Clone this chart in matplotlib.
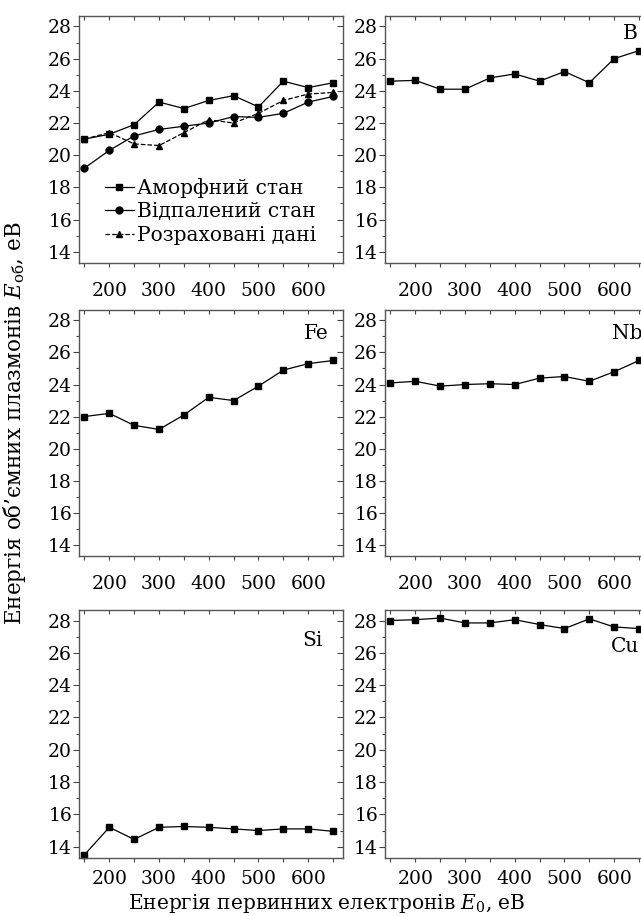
import numpy as np
import matplotlib
matplotlib.use('Agg')
import matplotlib.pyplot as plt

plt.rcParams['font.family'] = ['DejaVu Serif']
plt.rcParams['mathtext.fontset'] = 'dejavuserif'

# енергія первинних електронів, еВ
e0 = [150, 200, 250, 300, 350, 400, 450, 500, 550, 600, 650]

# Аморфний сплав: три криві
amorph = [21.0, 21.3, 21.9, 23.3, 22.9, 23.4, 23.7, 23.0, 24.6, 24.2, 24.5]
annealed = [19.2, 20.3, 21.2, 21.6, 21.8, 22.0, 22.4, 22.35, 22.6, 23.3, 23.65]
calc = [21.0, 21.4, 20.7, 20.6, 21.4, 22.2, 22.0, 22.6, 23.4, 23.8, 23.9]

# окремі елементи
el_B = [24.6, 24.65, 24.1, 24.1, 24.8, 25.05, 24.6, 25.2, 24.5, 26.0, 26.5]
el_Fe = [22.0, 22.2, 21.45, 21.2, 22.1, 23.2, 23.0, 23.9, 24.9, 25.3, 25.5]
el_Nb = [24.1, 24.2, 23.9, 24.0, 24.05, 24.0, 24.4, 24.5, 24.2, 24.8, 25.5]
el_Si = [13.5, 15.2, 14.45, 15.2, 15.25, 15.2, 15.1, 15.0, 15.1, 15.1, 14.95]
el_Cu = [28.0, 28.05, 28.15, 27.85, 27.85, 28.05, 27.75, 27.5, 28.1, 27.6, 27.5]

FS = 13.5      # підписи поділок
FL = 14.5      # легенда, позначки елементів
W, H = 641, 916
fig = plt.figure(figsize=(W / 100, H / 100), dpi=100)


def make_ax(x0, top, bottom, pad):
    w = 264
    ax = fig.add_axes([x0 / W, 1 - bottom / H, w / W, (bottom - top) / H])
    ax.set_xlim(139, 670)
    ax.set_ylim(13.3, 28.65)
    ax.set_xticks(np.arange(150, 651, 50))
    ax.set_xticklabels([str(v) if v % 100 == 0 and 200 <= v <= 600 else '' for v in range(150, 651, 50)])
    ax.set_yticks(np.arange(14, 29, 2))
    ax.set_yticks(np.arange(15, 28, 2), minor=True)
    ax.tick_params(axis='x', direction='out', length=3, width=0.8, pad=pad,
                   labelsize=FS, color='#444444')
    ax.tick_params(axis='y', which='major', direction='out', length=4, width=0.8, pad=1,
                   labelsize=FS, color='#444444')
    ax.tick_params(axis='y', which='minor', direction='out', length=2.5, width=0.8,
                   color='#444444')
    # верхні та праві штрихи всередину
    sec = ax.secondary_xaxis('top')
    sec.set_xticks(np.arange(150, 651, 50))
    sec.tick_params(direction='in', length=3, width=0.8, labeltop=False, color='#444444')
    secy = ax.secondary_yaxis('right')
    secy.set_yticks(np.arange(14, 29, 2))
    secy.set_yticks(np.arange(15, 28, 2), minor=True)
    secy.tick_params(which='major', direction='in', length=4, width=0.8, labelright=False, color='#444444')
    secy.tick_params(which='minor', direction='in', length=2.5, width=0.8, color='#444444')
    for s in list(ax.spines.values()):
        s.set_linewidth(1.0)
        s.set_color('#555555')
    for s in list(sec.spines.values()) + list(secy.spines.values()):
        s.set_visible(False)
    return ax


line_kw = dict(color='black', lw=0.9)

ax1 = make_ax(79, 16, 263, 11)
ax1.plot(e0, calc, '--', marker='^', ms=5, label='Розраховані дані', **line_kw)
ax1.plot(e0, annealed, '-', marker='o', ms=5, label='Відпалений стан', **line_kw)
ax1.plot(e0, amorph, '-', marker='s', ms=4, label='Аморфний стан', **line_kw)
h, l = ax1.get_legend_handles_labels()
ax1.legend(h[::-1], l[::-1], loc='upper left', bbox_to_anchor=(0.1, 0.345), frameon=False,
           fontsize=FL, handlelength=1.4, handletextpad=0.15, labelspacing=0.22,
           borderpad=0, borderaxespad=0)

ax2 = make_ax(385, 16, 263, 11)
ax2.plot(e0, el_B, '-', marker='s', ms=4, **line_kw)
ax2.text(0.928, 0.931, 'B', transform=ax2.transAxes, ha='center', va='center', fontsize=FL)

ax3 = make_ax(79, 310, 556, 11)
ax3.plot(e0, el_Fe, '-', marker='s', ms=4, **line_kw)
ax3.text(0.90, 0.906, 'Fe', transform=ax3.transAxes, ha='center', va='center', fontsize=FL)

ax4 = make_ax(385, 310, 556, 11)
ax4.plot(e0, el_Nb, '-', marker='s', ms=4, **line_kw)
ax4.text(0.917, 0.906, 'Nb', transform=ax4.transAxes, ha='center', va='center', fontsize=FL)

ax5 = make_ax(79, 610, 858, 5.5)
ax5.plot(e0, el_Si, '-', marker='s', ms=4, clip_on=False, **line_kw)
ax5.text(0.886, 0.879, 'Si', transform=ax5.transAxes, ha='center', va='center', fontsize=FL)

ax6 = make_ax(385, 610, 858, 5.5)
ax6.plot(e0, el_Cu, '-', marker='s', ms=4, **line_kw)
ax6.text(0.909, 0.851, 'Cu', transform=ax6.transAxes, ha='center', va='center', fontsize=FL)

fig.text(0.023, 0.538, 'Енергія об’ємних плазмонів $E_{\\mathrm{об}}$, еВ', rotation=90,
         ha='center', va='center', fontsize=15.5)
fig.text(0.509, 0.0015, 'Енергія первинних електронів $E_0$, еВ',
         ha='center', va='bottom', fontsize=14.5)

fig.savefig('out.png', dpi=100)
